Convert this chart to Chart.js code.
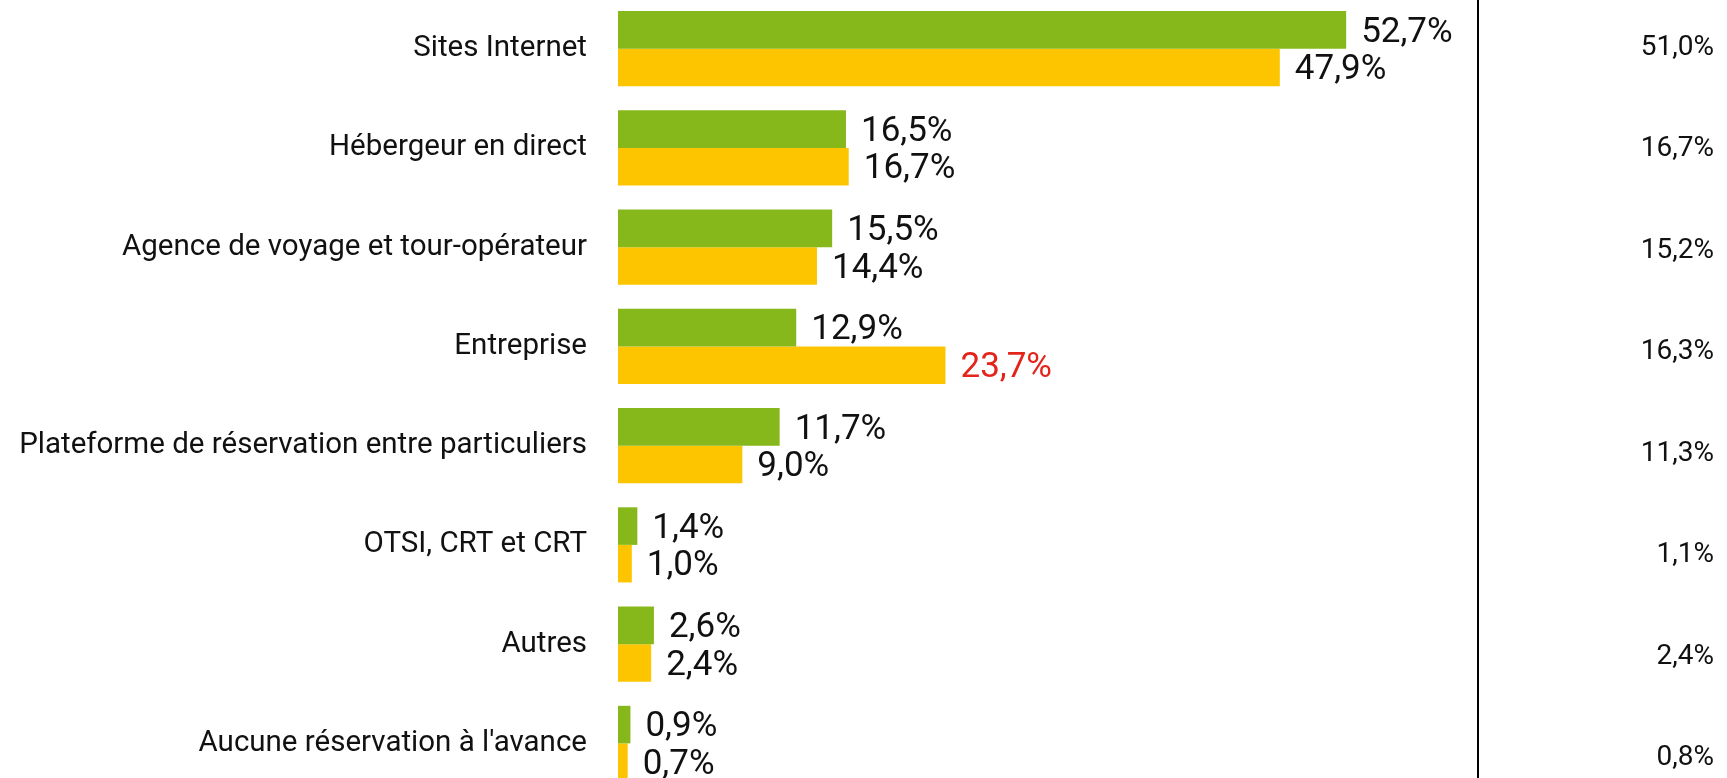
<!DOCTYPE html>
<html>
<head>
<meta charset="utf-8">
<script src="https://cdn.jsdelivr.net/npm/chart.js@4"></script>
<style>
    html, body { margin: 0; padding: 0; background: #fff; overflow: hidden; }
    #wrap { position: absolute; left: 0; top: -1px; width: 1727px; height: 794px; }
</style>
</head>
<body>
<div id="wrap"><canvas id="chartResa"></canvas></div>
<script>
var categories = ['Sites Internet', 'Hébergeur en direct', 'Agence de voyage et tour-opérateur', 'Entreprise',
    'Plateforme de réservation entre particuliers', 'OTSI, CRT et CRT', 'Autres', "Aucune réservation à l'avance"];
var serieVert = [52.7, 16.5, 15.5, 12.9, 11.7, 1.4, 2.6, 0.9];
var serieJaune = [47.9, 16.7, 14.4, 23.7, 9.0, 1.0, 2.4, 0.7];
var totaux = [51.0, 16.7, 15.2, 16.3, 11.3, 1.1, 2.4, 0.8];
var surligne = [false, false, false, false, false, false, false, false];
var surligneJaune = [false, false, false, true, false, false, false, false];

var color = ['#86b81b', '#fdc500'];

function fmt(v) {
    return v.toFixed(1).replace('.', ',') + '%';
}

const valeursPlugin = {
    id: 'valeurs',
    afterDatasetsDraw(chart) {
        const ctx = chart.ctx;
        ctx.save();
        ctx.font = '35px Roboto';
        ctx.textAlign = 'left';
        ctx.textBaseline = 'middle';
        chart.data.datasets.forEach(function (ds, di) {
            chart.getDatasetMeta(di).data.forEach(function (bar, i) {
                var rouge = di === 1 ? surligneJaune[i] : surligne[i];
                ctx.fillStyle = rouge ? '#e3241b' : '#111';
                ctx.fillText(fmt(ds.data[i]), bar.x + 15, bar.y + 3);
            });
        });

        // colonne de droite
        const yr = chart.scales.yr;
        ctx.font = '28px Roboto';
        ctx.textAlign = 'right';
        ctx.fillStyle = '#111';
        totaux.forEach(function (v, i) {
            ctx.fillText(fmt(v), 1714, yr.getPixelForValue(i) + 2);
        });

        // séparateur
        ctx.strokeStyle = '#000';
        ctx.lineWidth = 2;
        ctx.beginPath();
        ctx.moveTo(1478, 0);
        ctx.lineTo(1478, chart.height);
        ctx.stroke();
        ctx.restore();
    }
};

function sansMarge(scale) {
    scale.paddingTop = 0;
    scale.paddingBottom = 0;
}

const chartResa = document.getElementById('chartResa');

new Chart(chartResa, {
    type: 'bar',
    data: {
        labels: categories,
        datasets: [
            {
                label: 'Vert',
                data: serieVert,
                backgroundColor: color[0],
                borderWidth: 0,
            },
            {
                label: 'Jaune',
                data: serieJaune,
                backgroundColor: color[1],
                borderWidth: 0,
            }
        ]
    },
    options: {
        indexAxis: 'y',
        responsive: true,
        maintainAspectRatio: false,
        animation: false,
        categoryPercentage: 0.757,
        barPercentage: 1,
        layout: { padding: { left: 0, right: 280, top: 0, bottom: 0 } },
        scales: {
            x: {
                display: false,
                min: 0,
                max: 60,
            },
            y: {
                grid: { display: false, drawTicks: false },
                border: { display: false },
                ticks: {
                    padding: 31,
                    color: '#111',
                    font: { family: 'Roboto', size: 29.5 },
                },
                afterFit: function (scale) {
                    scale.width = 618;
                    sansMarge(scale);
                },
            },
            yr: {
                type: 'linear',
                display: false,
                reverse: true,
                offset: false,
                bounds: 'data',
                min: -0.463,
                max: 7.36,
                afterFit: sansMarge,
            }
        },
        plugins: {
            legend: { display: false },
            tooltip: { enabled: false },
            title: { display: false }
        }
    },
    plugins: [valeursPlugin]
});
</script>
</body>
</html>
